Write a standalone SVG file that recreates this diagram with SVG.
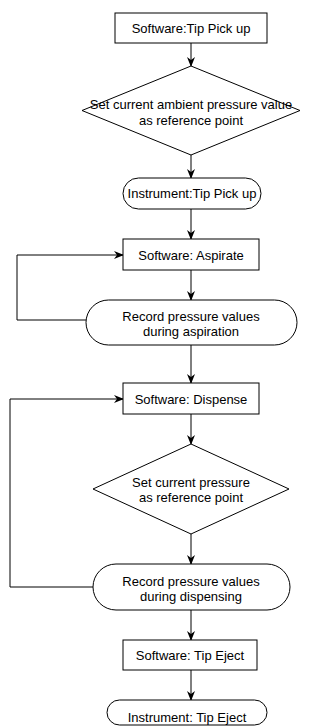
<svg xmlns="http://www.w3.org/2000/svg" width="322" height="726" viewBox="0 0 322 726">
<style>
.s{fill:#fff;stroke:#000;stroke-width:1}
.t{font-family:"Liberation Sans",Arial,sans-serif;font-size:13px;fill:#000;text-anchor:middle}
.c{fill:none;stroke:#000;stroke-width:1}
</style>
<defs>
<marker id="a" markerWidth="10" markerHeight="8" refX="9" refY="4" orient="auto" markerUnits="userSpaceOnUse">
<path d="M0,0 L10,4 L0,8 L3,4 z" fill="#000"/>
</marker>
</defs>
<rect width="322" height="726" fill="#fff"/>
<g id="connectors">
<path class="c" d="M191,43 V66" marker-end="url(#a)"/>
<path class="c" d="M191,155 V178" marker-end="url(#a)"/>
<path class="c" d="M191,209 V239" marker-end="url(#a)"/>
<path class="c" d="M191,270 V300" marker-end="url(#a)"/>
<path class="c" d="M86,320 H17 V255 H123" marker-end="url(#a)"/>
<path class="c" d="M191,345 V383" marker-end="url(#a)"/>
<path class="c" d="M191,414 V444" marker-end="url(#a)"/>
<path class="c" d="M191,534 V564" marker-end="url(#a)"/>
<path class="c" d="M93,587 H10 V399 H123" marker-end="url(#a)"/>
<path class="c" d="M191,610 V640" marker-end="url(#a)"/>
<path class="c" d="M191,670 V700" marker-end="url(#a)"/>
</g>
<g id="n1"><rect class="s" x="115" y="13" width="152" height="30"/><text class="t" x="191" y="32.5">Software:Tip Pick up</text></g>
<g id="n2"><polygon class="s" points="191,66 300,110.5 191,155 82,110.5"/><text class="t" x="191" y="108.5">Set current ambient pressure value</text><text class="t" x="191" y="124.5">as reference point</text></g>
<g id="n3"><rect class="s" x="123" y="178" width="138" height="31" rx="15.5"/><text class="t" x="192" y="198">Instrument:Tip Pick up</text></g>
<g id="n4"><rect class="s" x="123" y="239" width="136" height="31"/><text class="t" x="191" y="259.5">Software: Aspirate</text></g>
<g id="n5"><rect class="s" x="86" y="300" width="211" height="45" rx="22.5"/><text class="t" x="191" y="320.5">Record pressure values</text><text class="t" x="191" y="335.5">during aspiration</text></g>
<g id="n6"><rect class="s" x="123" y="383" width="136" height="31"/><text class="t" x="191" y="403.5">Software: Dispense</text></g>
<g id="n7"><polygon class="s" points="191,444 289,489 191,534 93,489"/><text class="t" x="191" y="486.5">Set current pressure</text><text class="t" x="191" y="501.5">as reference point</text></g>
<g id="n8"><rect class="s" x="93" y="564" width="197" height="46" rx="23"/><text class="t" x="191" y="585.5">Record pressure values</text><text class="t" x="191" y="600.5">during dispensing</text></g>
<g id="n9"><rect class="s" x="123" y="640" width="134" height="30"/><text class="t" x="190" y="659.5">Software: Tip Eject</text></g>
<g id="n10"><rect class="s" x="107" y="700" width="160" height="25" rx="12.5"/><text class="t" x="187" y="721.5">Instrument: Tip Eject</text></g>
</svg>
